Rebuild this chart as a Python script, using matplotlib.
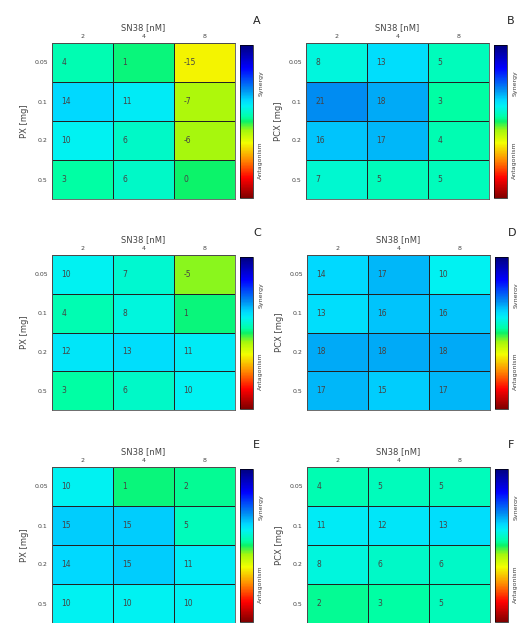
# SN38 combination heatmaps (PX / PCX), 3x2 panels
import numpy as np
import matplotlib
matplotlib.use("Agg")
from matplotlib import pyplot as plt
from matplotlib.colors import LinearSegmentedColormap, Normalize
from matplotlib.cm import ScalarMappable

sn38_doses = ["2", "4", "8"]
drug_doses = ["0.05", "0.1", "0.2", "0.5"]
panel_letters = ["A", "B", "C", "D", "E", "F"]
ylabels = ["PX [mg]", "PCX [mg]", "PX [mg]", "PCX [mg]", "PX [mg]", "PCX [mg]"]

# rows = drug dose, cols = SN38 dose
vals_a = [[4, 1, -15], [14, 11, -7], [10, 6, -6], [3, 6, 0]]
vals_b = [[8, 13, 5], [21, 18, 3], [16, 17, 4], [7, 5, 5]]
vals_c = [[10, 7, -5], [4, 8, 1], [12, 13, 11], [3, 6, 10]]
vals_d = [[14, 17, 10], [13, 16, 16], [18, 18, 18], [17, 15, 17]]
vals_e = [[10, 1, 2], [15, 15, 5], [14, 15, 11], [10, 10, 10]]
vals_f = [[4, 5, 5], [11, 12, 13], [8, 6, 6], [2, 3, 5]]
all_vals = [vals_a, vals_b, vals_c, vals_d, vals_e, vals_f]

cmap = LinearSegmentedColormap.from_list("syn", [
    (0.00, (0.5, 0, 0)),
    (0.13, (1, 0, 0)),
    (0.25, (1, 0.55, 0)),
    (0.36, (0.95, 1, 0)),
    (0.44, (0.65, 0.97, 0.05)),
    (0.50, (0.05, 0.95, 0.4)),
    (0.53, (0, 1, 0.65)),
    (0.60, (0, 0.95, 0.95)),
    (0.64, (0, 0.85, 1)),
    (0.71, (0, 0.55, 0.95)),
    (0.85, (0, 0, 1)),
    (1.00, (0, 0, 0.5)),
])
norm = Normalize(-50, 50)

W, H = 517, 623
fig = plt.figure(figsize=(W / 100, H / 100), dpi=100)

def px(x0, y0, x1, y1):
    return [x0 / W, 1 - y1 / H, (x1 - x0) / W, (y1 - y0) / H]

# heatmap boxes (pixels): left, top, right, bottom
boxes = [(52, 43, 235, 199), (306, 43, 489, 199),
         (52, 255, 235, 410), (307, 255, 490, 410),
         (52, 467, 235, 623), (307, 467, 490, 623)]
txt = "#444444"

for i, vals in enumerate(all_vals):
    x0, y0, x1, y1 = boxes[i]
    ax = fig.add_axes(px(x0, y0, x1, y1))
    data = np.array(vals)
    ax.pcolormesh(data, cmap=cmap, norm=norm, edgecolors="#222222", linewidth=0.7)
    ax.set_xlim(0, 3)
    ax.set_ylim(4, 0)
    for r in range(4):
        for c in range(3):
            ax.text(c + 0.15, r + 0.5, str(vals[r][c]), ha="left", va="center",
                    fontsize=5.5, color=txt)
    ax.xaxis.tick_top()
    ax.xaxis.set_label_position("top")
    ax.set_xticks(np.arange(3) + 0.5)
    ax.set_xticklabels(sn38_doses)
    ax.set_yticks(np.arange(4) + 0.5)
    ax.set_yticklabels(drug_doses)
    ax.tick_params(length=0, labelsize=4.5, labelcolor=txt, pad=3)
    ax.set_xlabel("SN38 [nM]", fontsize=6, color=txt, labelpad=3)
    ax.set_ylabel(ylabels[i], fontsize=6, color=txt, labelpad=4)
    for s in ax.spines.values():
        s.set_color("#555555")
        s.set_linewidth(0.6)

    # colorbar
    cax = fig.add_axes(px(x1 + 5, y0 + 2, x1 + 18, y1 - 1))
    cb = fig.colorbar(ScalarMappable(norm=norm, cmap=cmap), cax=cax)
    cb.set_ticks([])
    cb.outline.set_linewidth(0.5)
    cax.text(1.6, 0.75, "Synergy", rotation=90, ha="center", va="center",
             fontsize=4.5, color=txt, transform=cax.transAxes)
    cax.text(1.6, 0.25, "Antagonism", rotation=90, ha="center", va="center",
             fontsize=4.5, color=txt, transform=cax.transAxes)
    fig.text((x1 + 18) / W, 1 - (y0 - 22) / H, panel_letters[i], fontsize=8,
             color="#222222", ha="left", va="center")

fig.savefig("out.png", dpi=100)
